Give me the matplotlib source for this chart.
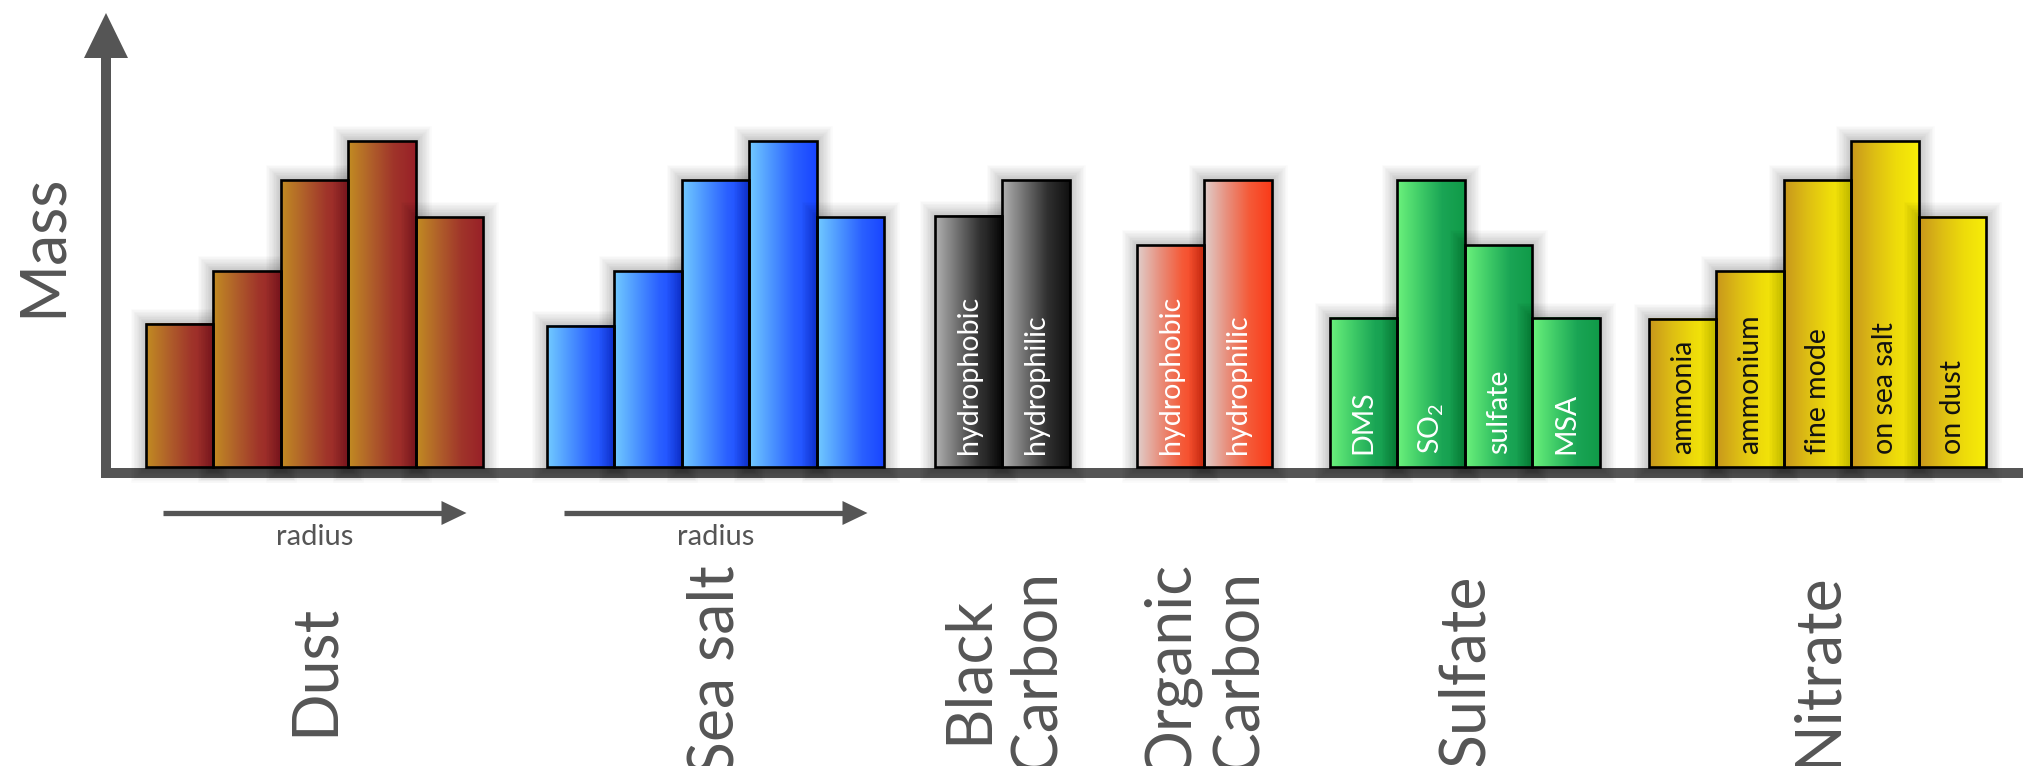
import numpy as np
import matplotlib.pyplot as plt
import matplotlib.patheffects as pe
from matplotlib.colors import LinearSegmentedColormap
from matplotlib.patches import Polygon

plt.rcParams['font.family'] = ['Lato', 'DejaVu Sans']
plt.rcParams['mathtext.default'] = 'regular'

###############################################################################
# DATA (relative mass)
###############################################################################
dust_mass = [2.2, 3.0, 4.4, 5.0, 3.83]
seasalt_mass = [2.17, 3.0, 4.4, 5.0, 3.83]
bc_mass = [3.85, 4.4]
oc_mass = [3.4, 4.4]
sulfate_mass = [2.29, 4.4, 3.4, 2.29]
nitrate_mass = [2.27, 3.0, 4.4, 5.0, 3.84]

bc_labels = ["hydrophobic", "hydrophilic"]
oc_labels = ["hydrophobic", "hydrophilic"]
sulfate_labels = ["DMS", "SO$_2$", "sulfate", "MSA"]
nitrate_labels = ["ammonia", "ammonium", "fine mode", "on sea salt", "on dust"]

group_names = ["Dust", "Sea salt", "Black\nCarbon", "Organic\nCarbon",
               "Sulfate", "Nitrate"]

###############################################################################
# LAYOUT / STYLE
###############################################################################
W, H = 2023, 766
gray = "#555555"
base_px = 467            # baseline of the bars, pixels from top
px_per_unit = 326 / 5.0  # pixels per mass unit
bar_w = 67.5
group_left = [146, 547, 935, 1137, 1330, 1649]

# left -> right gradient of each group
gradients = [
    ["#C28C22", "#B0602A", "#A0352A", "#981F28"],
    ["#72CBFF", "#4C95FF", "#2A60FF", "#1844FF"],
    ["#B2B2B2", "#707070", "#303030", "#101010"],
    ["#E0CFCC", "#E8907E", "#F55A38", "#FA3A18"],
    ["#6CF27C", "#40CC68", "#1AA555", "#109A48"],
    ["#C8961C", "#DDBD14", "#EEDC0A", "#F8EE08"],
]
masses = [dust_mass, seasalt_mass, bc_mass, oc_mass, sulfate_mass, nitrate_mass]
inner_labels = [None, None, bc_labels, oc_labels, sulfate_labels, nitrate_labels]
label_colors = [None, None, "white", "white", "white", "#111111"]

fig = plt.figure(figsize=(W / 100, H / 100), dpi=100)

# axes in pixel coordinates for the decorations
axd = fig.add_axes([0, 0, 1, 1])
axd.set_xlim(0, W)
axd.set_ylim(H, 0)
axd.axis("off")
axd.set_zorder(0)

# axes for the bars, y in mass units
axb = fig.add_axes([0, 0, 1, 1])
axb.axis("off")
axb.set_zorder(1)
axb.patch.set_visible(False)

grad = np.linspace(0, 1, 256).reshape(1, -1)
# soft glow: many thin strokes with low alpha
shadow = [pe.Stroke(linewidth=lw, foreground="black", alpha=0.02)
          for lw in range(22, 1, -2)] + [pe.Normal()]

k = 0  # running bar counter, later bars cast shadow on earlier ones
for g in range(len(masses)):
    xs = [group_left[g] + (i + 0.5) * bar_w for i in range(len(masses[g]))]
    cmap = LinearSegmentedColormap.from_list("g%d" % g, gradients[g])
    shad = axb.bar(xs, masses[g], width=bar_w, color="white",
                   edgecolor="none", path_effects=shadow)
    rects = axb.bar(xs, masses[g], width=bar_w, facecolor="none",
                    edgecolor="black", linewidth=1.9, zorder=4)
    for s, r in zip(shad, rects):
        s.set_zorder(1 + 0.01 * (2 * k))
        x0, h = r.get_x(), r.get_height()
        axb.imshow(grad, cmap=cmap, extent=[x0, x0 + bar_w, 0, h],
                   aspect="auto", interpolation="bilinear",
                   zorder=1 + 0.01 * (2 * k + 1))
        k += 1
    if inner_labels[g]:
        for x, lab in zip(xs, inner_labels[g]):
            axb.text(x, 13 / px_per_unit, lab, rotation=90, ha="center",
                     va="bottom", color=label_colors[g], fontsize=20.5,
                     zorder=5)

axb.set_xlim(0, W)
axb.set_ylim(-(H - base_px) / px_per_unit, base_px / px_per_unit)

# y axis with arrow head
axd.plot([106, 106], [478, 56], color=gray, lw=7.2, solid_capstyle="butt")
axd.add_patch(Polygon([(84, 58), (128, 58), (106, 13)], closed=True,
                      color=gray, lw=0))
# x axis
axd.plot([101, W], [473, 473], color=gray, lw=7.2, solid_capstyle="butt")
axd.text(43, 245, "Mass", rotation=90, ha="center", va="center",
         fontsize=45, color=gray)

# radius arrows under dust and sea salt
for g in range(2):
    x0 = group_left[g] + 17
    x1 = group_left[g] + len(masses[g]) * bar_w - 17
    axd.plot([x0, x1 - 20], [513, 513], color=gray, lw=3.8,
             solid_capstyle="butt")
    axd.add_patch(Polygon([(x1 - 25, 501), (x1 - 25, 525), (x1, 513)],
                          closed=True, color=gray, lw=0))
    axd.text((x0 + x1) / 2, 537, "radius", ha="center", va="center",
             fontsize=21, color=gray)

# group names (they run off the bottom edge, as in the original)
for g in range(len(masses)):
    xc = group_left[g] + len(masses[g]) * bar_w / 2
    axd.text(xc, 670, group_names[g], rotation=90, ha="center", va="center",
             multialignment="center", fontsize=45, color=gray)

plt.savefig("out.png", dpi=100)
plt.close()
